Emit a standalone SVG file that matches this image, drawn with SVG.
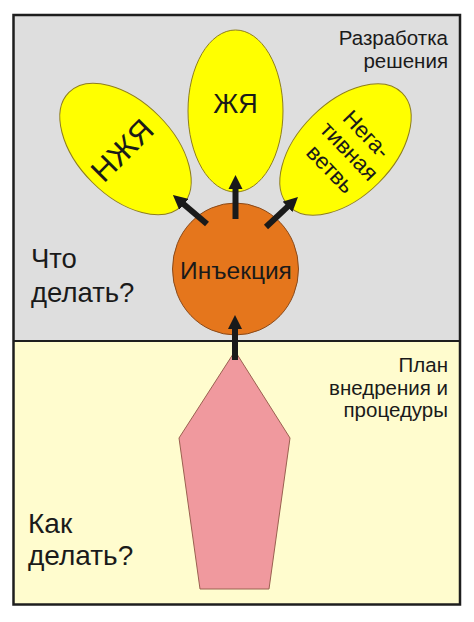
<svg xmlns="http://www.w3.org/2000/svg" width="474" height="622" viewBox="0 0 474 622">
<style>
.t{font-family:"Liberation Sans",Arial,sans-serif;fill:#1a1a1a}
.petal{fill:#ffff00;stroke:#8f7f1a;stroke-width:1}
.arr{stroke:#1a1a1a;stroke-width:6;fill:none;marker-end:url(#ah)}
</style>
<defs>
<marker id="ah" viewBox="0 0 10 10" refX="2" refY="5" markerWidth="2.4" markerHeight="2.4" orient="auto" markerUnits="strokeWidth">
<path d="M0,0 L10,5 L0,10 z" fill="#1a1a1a"/>
</marker>
</defs>
<rect width="474" height="622" fill="#ffffff"/>
<g id="zone-top">
<rect x="13.5" y="15" width="446.5" height="326" fill="#dedede"/>
<text class="t" font-size="20.5" text-anchor="end" x="448" y="45">Разработка</text>
<text class="t" font-size="20.5" text-anchor="end" x="448" y="68">решения</text>
<text class="t" font-size="27.5" x="31" y="268">Что</text>
<text class="t" font-size="27.5" x="31" y="302">делать?</text>
</g>
<g id="zone-bottom">
<rect x="13.5" y="341" width="446.5" height="263.5" fill="#fffcce"/>
<text class="t" font-size="20.5" text-anchor="end" x="448" y="372">План</text>
<text class="t" font-size="20.5" text-anchor="end" x="448" y="395">внедрения и</text>
<text class="t" font-size="20.5" text-anchor="end" x="448" y="417">процедуры</text>
<text class="t" font-size="28" x="28" y="533">Как</text>
<text class="t" font-size="28" x="28" y="565">делать?</text>
</g>
<g id="frame" fill="none" stroke="#1e1e1e">
<rect x="13.5" y="15" width="446.5" height="589.5" stroke-width="2.5"/>
<line x1="13.5" y1="341" x2="460" y2="341" stroke-width="2"/>
</g>
<g id="node-nzhya">
<ellipse class="petal" cx="125.5" cy="149" rx="47" ry="80" transform="rotate(-45 125.5 149)"/>
<text class="t" font-size="31" text-anchor="middle" transform="translate(122 150) rotate(-45)" y="11">НЖЯ</text>
</g>
<g id="node-zhya">
<ellipse class="petal" cx="235.5" cy="111" rx="47.5" ry="81"/>
<text class="t" font-size="27" text-anchor="middle" x="235.5" y="113">ЖЯ</text>
</g>
<g id="node-neg">
<ellipse class="petal" cx="345.5" cy="149.5" rx="47" ry="80" transform="rotate(45 345.5 149.5)"/>
<g transform="translate(346 150) rotate(46)">
<text class="t" font-size="22.5" text-anchor="middle" x="3" y="-18">Нега-</text>
<text class="t" font-size="22.5" text-anchor="middle" x="3" y="6">тивная</text>
<text class="t" font-size="22.5" text-anchor="middle" x="3" y="32">ветвь</text>
</g>
</g>
<g id="node-injection">
<ellipse cx="235.5" cy="269" rx="63" ry="66" fill="#e5761c" stroke="#8a4a1a" stroke-width="1"/>
<text class="t" font-size="24.5" text-anchor="middle" x="236" y="279">Инъекция</text>
</g>
<g id="node-plan">
<polygon points="235,351 179,438 200,589 269,589 290,438" fill="#f0999e" stroke="#9a6050" stroke-width="1"/>
</g>
<g id="connectors">
<line class="arr" x1="235.5" y1="219" x2="235.5" y2="186.5"/>
<line class="arr" x1="207" y1="224" x2="181.7" y2="202.5"/>
<line class="arr" x1="266" y1="227" x2="289.6" y2="204.9"/>
<line class="arr" x1="235" y1="360" x2="235" y2="326.5"/>
</g>
</svg>
